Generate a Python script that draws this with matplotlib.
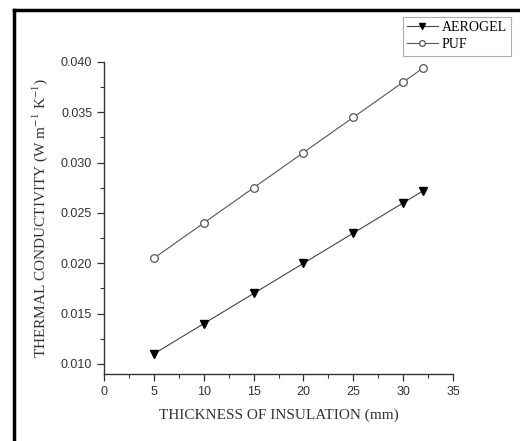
#!/usr/bin/env python3

import matplotlib
matplotlib.use("Agg")
import matplotlib.pyplot as plt
from matplotlib.lines import Line2D
from matplotlib.ticker import MultipleLocator

thickness = [5, 10, 15, 20, 25, 30, 32]
aerogel = [0.011, 0.014, 0.017, 0.020, 0.023, 0.026, 0.0272]
puf = [0.0205, 0.024, 0.0275, 0.031, 0.0345, 0.038, 0.0394]

plt.rcParams["mathtext.fontset"] = "stix"

W, H = 520, 441
fig = plt.figure(figsize=(W / 100, H / 100), dpi=100)
ax = fig.add_axes([104 / W, 1 - 374 / H, (453 - 104) / W, (374 - 62) / H])

ax.plot(thickness, aerogel, color="#444444", lw=0.8, marker="v", ms=6,
        mfc="black", mec="black", label="AEROGEL")
ax.plot(thickness, puf, color="#555555", lw=0.8, marker="o", ms=5.5,
        mfc="white", mec="#555555", mew=0.9, label="PUF")

ax.set_xlim(0, 35)
ax.set_ylim(0.009, 0.040)
ax.xaxis.set_major_locator(MultipleLocator(5))
ax.xaxis.set_minor_locator(MultipleLocator(2.5))
ax.yaxis.set_major_locator(MultipleLocator(0.005))
ax.yaxis.set_minor_locator(MultipleLocator(0.0025))
ax.yaxis.set_major_formatter(plt.FormatStrFormatter("%.3f"))

for side in ("top", "right"):
    ax.spines[side].set_visible(False)
ax.spines["left"].set_bounds(0.009, 0.040)
for side in ("left", "bottom"):
    ax.spines[side].set_color("#333333")
    ax.spines[side].set_linewidth(1.0)
ax.tick_params(which="major", direction="out", length=5, width=0.9,
               colors="#333333", labelsize=9,
               labelfontfamily="Liberation Sans")
ax.tick_params(which="minor", direction="out", length=3, width=0.8,
               colors="#333333")

ax.set_xlabel("THICKNESS OF INSULATION (mm)", family="Liberation Serif",
              fontsize=11, color="#333333", labelpad=8)
ax.set_ylabel(r"THERMAL CONDUCTIVITY (W m$^{-1}$ K$^{-1}$)",
              family="Liberation Serif", fontsize=11, color="#333333",
              labelpad=8)

leg = ax.legend(loc="upper right", bbox_to_anchor=(511 / W, 1 - 17 / H),
                bbox_transform=fig.transFigure, frameon=True, fancybox=False,
                prop={"family": "Liberation Serif", "size": 10},
                handlelength=2.2, handletextpad=0.3, borderpad=0.3,
                labelspacing=0.3, borderaxespad=0, markerscale=0.75)
leg.get_frame().set_edgecolor("#999999")
leg.get_frame().set_linewidth(0.8)

# black frame along the left and top edges of the picture
fig.add_artist(Line2D([14 / W, 14 / W], [0, 1 - 10 / H], color="black",
                      lw=2.5, transform=fig.transFigure))
fig.add_artist(Line2D([14 / W, 1], [1 - 10 / H, 1 - 10 / H], color="black",
                      lw=2.5, transform=fig.transFigure))

fig.savefig("out.png", dpi=100)
